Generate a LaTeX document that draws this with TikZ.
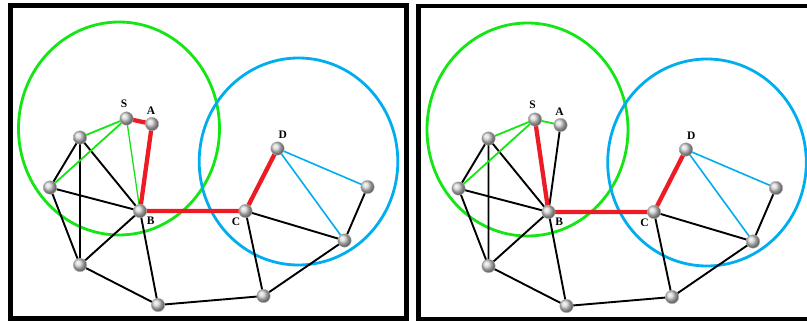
\documentclass[tikz,border=0pt]{standalone}
\usepackage{fontspec}
\setmainfont{Liberation Serif}
\definecolor{cgreen}{RGB}{20,230,20}
\definecolor{cblue}{RGB}{0,174,239}
\definecolor{cred}{RGB}{237,28,36}
\begin{document}
\begin{tikzpicture}[x=1pt,y=-1pt,
  vtx/.style={circle,inner sep=0pt,minimum size=13.5pt,ball color=gray!35,draw=gray!55,line width=0.4pt},
  lbl/.style={font=\bfseries\fontsize{11.5}{13}\selectfont,inner sep=0pt},
  blk/.style={line width=1.9pt,black},
  grn/.style={line width=1.8pt,cgreen},
  thgrn/.style={line width=1.3pt,cgreen},
  blu/.style={line width=1.6pt,cblue},
  rd/.style={line width=4.3pt,cred},
  gring/.style={line width=2.8pt,cgreen},
  bring/.style={line width=2.8pt,cblue},
  frame/.style={line width=4.6pt,black}]
\useasboundingbox (0,0) rectangle (807,321);
\fill[white] (0,0) rectangle (807,321);
\begin{scope}
\clip (0,0) rectangle (807,321);
\draw[frame] (10.5,5.5) rectangle (406.3,318.3);
\draw[frame] (418.2,6) rectangle (830,319.7);
\end{scope}
% ---------- left panel ----------
\draw[gring] (119,128.5) ellipse [x radius=100.5, y radius=106.5];
\draw[bring] (298.5,161.5) ellipse [x radius=99.3, y radius=103.5];
\coordinate (lS) at (126.5,118.5);
\coordinate (lA) at (152,124);
\coordinate (lN1) at (80,137.5);
\coordinate (lN2) at (50,187.5);
\coordinate (lB) at (140,211);
\coordinate (lC) at (245.5,211);
\coordinate (lD) at (277.5,148.5);
\coordinate (lE) at (367.5,187);
\coordinate (lF) at (344.5,240.5);
\coordinate (lG) at (80,265);
\coordinate (lH) at (158,305);
\coordinate (lI) at (263.5,296);
\draw[blk] (lN1) -- (lN2) (lN1) -- (lG) (lN1) -- (lB)
  (lN2) -- (lB) (lN2) -- (lG) (lG) -- (lB)
  (lG) -- (lH) (lB) -- (lH) (lH) -- (lI)
  (lC) -- (lI) (lC) -- (lF) (lF) -- (lE)
  (lF) -- (lI);
\draw[grn] (lS) -- (lN1) (lS) -- (lN2);
\draw[thgrn] (lS) -- (lB);
\draw[blu] (lD) -- (lE) (lD) -- (lF);
\draw[rd] (lS) -- (lA) -- (lB) -- (lC) -- (lD);
\foreach \n in {lS,lA,lN1,lN2,lB,lC,lD,lE,lF,lG,lH,lI} \node[vtx] (v\n) at (\n) {};
\node[lbl] (lSl) at (124,103.3) {S};
\node[lbl] (lAl) at (151,110.7) {A};
\node[lbl] (lBl) at (150.7,220.5) {B};
\node[lbl] (lCl) at (236,222) {C};
\node[lbl] (lDl) at (282.7,135) {D};
% ---------- right panel ----------
\begin{scope}[shift={(408.5,1)}]
\draw[gring] (119,128.5) ellipse [x radius=100.5, y radius=106.5];
\draw[bring] (298.5,161.5) ellipse [x radius=99.3, y radius=103.5];
\coordinate (rS) at (126.5,118.5);
\coordinate (rA) at (152,124);
\coordinate (rN1) at (80,137.5);
\coordinate (rN2) at (50,187.5);
\coordinate (rB) at (140,211);
\coordinate (rC) at (245.5,211);
\coordinate (rD) at (277.5,148.5);
\coordinate (rE) at (367.5,187);
\coordinate (rF) at (344.5,240.5);
\coordinate (rG) at (80,265);
\coordinate (rH) at (158,305);
\coordinate (rI) at (263.5,296);
\draw[blk] (rN1) -- (rN2) (rN1) -- (rG) (rN1) -- (rB)
  (rN2) -- (rB) (rN2) -- (rG) (rG) -- (rB)
  (rG) -- (rH) (rB) -- (rH) (rH) -- (rI)
  (rC) -- (rI) (rC) -- (rF) (rF) -- (rE)
  (rF) -- (rI) (rA) -- (rB);
\draw[grn] (rS) -- (rN1) (rS) -- (rN2) (rS) -- (rA);
\draw[blu] (rD) -- (rE) (rD) -- (rF);
\draw[rd] (rS) -- (rB) -- (rC) -- (rD);
\foreach \n in {rS,rA,rN1,rN2,rB,rC,rD,rE,rF,rG,rH,rI} \node[vtx] (v\n) at (\n) {};
\node[lbl] (rSl) at (124,103.3) {S};
\node[lbl] (rAl) at (151,110.7) {A};
\node[lbl] (rBl) at (150.7,220.5) {B};
\node[lbl] (rCl) at (236,222) {C};
\node[lbl] (rDl) at (282.7,135) {D};
\end{scope}
\end{tikzpicture}
\end{document}
